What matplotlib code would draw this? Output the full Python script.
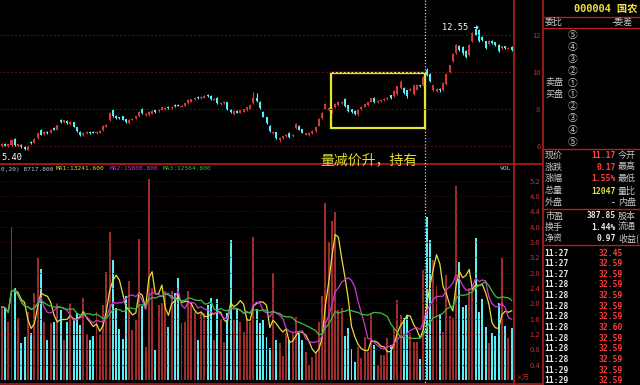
import numpy as np
import pandas as pd
import matplotlib
matplotlib.use('Agg')
import matplotlib.pyplot as plt
from matplotlib.patches import Rectangle

plt.rcParams['font.family'] = ['Noto Sans CJK SC', 'DejaVu Sans']

# 日K线数据 (开, 收, 高, 低)
opens = [6.00, 6.12, 6.00, 6.05, 6.40, 6.00, 6.05, 5.95, 5.80, 6.22,
         6.18, 6.42, 6.85, 6.65, 6.78, 6.72, 6.98, 6.88, 7.40, 7.28,
         7.35, 7.20, 7.28, 7.02, 6.78, 6.60, 6.68, 6.76, 6.76, 6.70,
         6.72, 6.85, 7.02, 7.40, 7.92, 7.62, 7.55, 7.60, 7.45, 7.25,
         7.42, 7.52, 7.60, 8.02, 7.68, 7.66, 7.75, 7.92, 7.88, 7.95,
         8.00, 8.12, 8.04, 8.22, 8.24, 8.12, 8.18, 8.30, 8.40, 8.52,
         8.64, 8.58, 8.62, 8.76, 8.72, 8.50, 8.62, 8.28, 8.30, 8.36,
         7.95, 7.72, 7.90, 7.80, 7.85, 7.92, 8.02, 8.30, 8.62, 8.40,
         7.85, 7.55, 7.10, 6.68, 6.75, 6.30, 6.45, 6.55, 6.70, 6.55,
         6.95, 7.10, 6.90, 6.62, 6.58, 6.70, 6.82, 7.10, 7.50, 8.02,
         7.95, 7.80, 8.10, 8.22, 8.30, 8.55, 8.20, 7.98, 7.90, 7.72,
         8.00, 8.12, 8.22, 8.40, 8.60, 8.38, 8.42, 8.48, 8.55, 8.75,
         8.70, 8.80, 9.15, 9.15, 9.00, 9.02, 8.82, 9.05, 9.28, 9.30,
         10.10, 9.90, 9.02, 8.95, 9.10, 9.00, 9.35, 10.00, 10.60, 11.00,
         11.40, 11.35, 11.15, 10.90, 11.65, 12.30, 12.25, 11.88, 11.65, 11.50,
         11.68, 11.60, 11.45, 11.30, 11.38, 11.26, 11.35]
closes = [6.10, 6.02, 6.08, 6.30, 6.05, 6.08, 5.92, 5.82, 6.00, 6.15,
          6.40, 6.70, 6.62, 6.78, 6.68, 6.86, 6.88, 7.12, 7.28, 7.38,
          7.25, 7.30, 7.05, 6.80, 6.62, 6.70, 6.75, 6.70, 6.72, 6.76,
          6.80, 7.08, 7.15, 7.78, 7.62, 7.52, 7.50, 7.42, 7.30, 7.40,
          7.48, 7.60, 7.85, 7.78, 7.75, 7.85, 7.88, 7.85, 7.95, 8.08,
          8.06, 8.05, 8.12, 8.15, 8.18, 8.18, 8.30, 8.48, 8.52, 8.60,
          8.58, 8.66, 8.72, 8.70, 8.52, 8.56, 8.30, 8.34, 8.38, 7.98,
          7.85, 7.90, 7.80, 7.92, 7.98, 8.08, 8.22, 8.58, 8.45, 8.05,
          7.58, 7.25, 6.82, 6.75, 6.42, 6.45, 6.52, 6.62, 6.48, 6.62,
          7.18, 6.88, 6.72, 6.68, 6.70, 6.82, 7.00, 7.48, 7.78, 8.28,
          8.05, 8.02, 8.28, 8.40, 8.38, 8.15, 7.88, 7.82, 7.72, 7.92,
          8.12, 8.28, 8.35, 8.58, 8.38, 8.42, 8.50, 8.55, 8.62, 8.60,
          8.98, 9.22, 9.45, 8.88, 8.68, 9.10, 9.28, 9.30, 9.22, 9.75,
          9.82, 9.52, 9.28, 9.10, 9.00, 9.40, 9.90, 10.35, 10.95, 11.45,
          11.18, 11.00, 10.82, 11.45, 12.10, 12.02, 11.65, 11.75, 11.30, 11.65,
          11.55, 11.45, 11.12, 11.38, 11.30, 11.32, 11.17]
highs = [6.14, 6.16, 6.12, 6.36, 6.44, 6.12, 6.08, 5.98, 6.04, 6.25,
         6.44, 6.75, 6.90, 6.82, 6.82, 6.90, 7.02, 7.16, 7.45, 7.42,
         7.38, 7.34, 7.32, 7.05, 6.80, 6.74, 6.80, 6.79, 6.80, 6.80,
         6.84, 7.12, 7.20, 7.84, 7.96, 7.66, 7.58, 7.63, 7.48, 7.44,
         7.52, 7.64, 7.90, 8.06, 7.80, 7.88, 7.92, 7.96, 7.99, 8.12,
         8.10, 8.16, 8.16, 8.26, 8.27, 8.22, 8.34, 8.52, 8.56, 8.64,
         8.68, 8.70, 8.76, 8.80, 8.75, 8.60, 8.66, 8.38, 8.42, 8.40,
         7.98, 7.94, 7.94, 7.96, 8.02, 8.12, 8.26, 8.90, 8.88, 8.44,
         7.88, 7.58, 7.14, 6.80, 6.78, 6.50, 6.56, 6.66, 6.74, 6.66,
         7.22, 7.14, 6.94, 6.72, 6.74, 6.86, 7.04, 7.52, 7.82, 8.34,
         8.10, 8.06, 8.32, 8.44, 8.42, 8.60, 8.24, 8.02, 7.94, 7.96,
         8.16, 8.32, 8.39, 8.62, 8.64, 8.46, 8.54, 8.59, 8.66, 8.78,
         9.02, 9.26, 9.58, 9.20, 9.04, 9.14, 9.32, 9.34, 9.32, 9.80,
         10.22, 9.94, 9.32, 9.14, 9.14, 9.44, 9.95, 10.40, 11.00, 11.50,
         11.45, 11.40, 11.20, 11.50, 12.16, 12.55, 12.30, 11.92, 11.70, 11.72,
         11.72, 11.64, 11.50, 11.42, 11.42, 11.36, 11.40]
lows = [5.96, 5.98, 5.96, 6.02, 6.00, 5.95, 5.88, 5.76, 5.78, 6.10,
        6.15, 6.40, 6.58, 6.62, 6.64, 6.70, 6.84, 6.85, 7.24, 7.25,
        7.20, 7.16, 7.00, 6.76, 6.56, 6.55, 6.64, 6.66, 6.68, 6.66,
        6.68, 6.82, 7.00, 7.36, 7.58, 7.48, 7.46, 7.38, 7.26, 7.20,
        7.38, 7.48, 7.56, 7.74, 7.64, 7.62, 7.72, 7.80, 7.84, 7.92,
        7.96, 8.00, 8.00, 8.10, 8.14, 8.08, 8.15, 8.27, 8.36, 8.48,
        8.54, 8.55, 8.58, 8.66, 8.48, 8.46, 8.26, 8.24, 8.26, 7.94,
        7.80, 7.68, 7.76, 7.76, 7.82, 7.88, 7.98, 8.26, 8.40, 8.00,
        7.54, 7.20, 6.78, 6.64, 6.36, 6.24, 6.40, 6.50, 6.44, 6.50,
        6.92, 6.84, 6.68, 6.58, 6.54, 6.66, 6.78, 7.06, 7.46, 7.98,
        7.90, 7.76, 8.06, 8.18, 8.26, 8.10, 7.84, 7.78, 7.66, 7.62,
        7.96, 8.08, 8.18, 8.36, 8.34, 8.34, 8.38, 8.44, 8.51, 8.56,
        8.66, 8.76, 9.10, 8.82, 8.62, 8.98, 8.78, 9.00, 9.18, 9.26,
        9.78, 9.46, 8.96, 8.90, 8.94, 8.96, 9.30, 9.95, 10.55, 10.95,
        11.12, 10.92, 10.75, 10.85, 11.60, 11.98, 11.60, 11.70, 11.25, 11.46,
        11.50, 11.40, 11.08, 11.26, 11.26, 11.22, 11.12]

# 成交量 (万手)
volumes = [1.90, 1.88, 1.52, 4.00, 2.40, 1.62, 0.96, 1.13, 1.78, 1.22,
           2.27, 3.18, 2.90, 1.52, 1.04, 1.49, 1.52, 2.00, 1.83, 1.04,
           1.52, 2.02, 1.57, 1.74, 1.44, 2.14, 1.20, 1.04, 1.15, 1.78,
           1.18, 1.96, 2.83, 3.87, 3.13, 1.88, 1.33, 1.07, 2.19, 2.59,
           1.31, 1.57, 3.68, 1.92, 0.87, 5.25, 2.40, 0.77, 1.96, 2.00,
           2.31, 1.39, 2.31, 2.27, 2.65, 1.48, 1.52, 2.31, 2.00, 1.78,
           1.04, 1.74, 1.74, 1.96, 2.13, 1.04, 2.10, 1.58, 1.00, 1.74,
           3.66, 1.57, 1.87, 1.52, 1.26, 1.61, 1.52, 3.74, 1.84, 1.48,
           1.57, 1.11, 0.83, 2.80, 1.03, 0.96, 0.63, 1.22, 1.04, 1.22,
           1.65, 1.22, 1.04, 0.74, 0.39, 0.61, 0.74, 1.52, 2.18, 4.63,
           3.61, 4.16, 4.39, 1.83, 1.87, 1.15, 1.35, 0.80, 0.48, 0.87,
           0.58, 1.13, 0.74, 1.71, 0.91, 0.39, 0.65, 0.65, 1.09, 0.91,
           1.35, 2.09, 1.70, 1.61, 1.70, 1.22, 1.00, 1.00, 0.54, 2.87,
           4.25, 3.64, 3.13, 2.44, 1.72, 1.26, 2.74, 1.67, 1.61, 5.07,
           3.09, 1.91, 1.96, 2.39, 2.48, 3.70, 1.78, 2.10, 1.38, 0.96,
           1.22, 1.15, 2.00, 3.18, 1.41, 1.09, 1.35]

price_ticks = [6, 8, 10, 12]
vol_ticks = [0.4, 0.8, 1.2, 1.6, 2.0, 2.4, 2.8, 3.2, 3.6, 4.0, 4.4, 4.8, 5.2]

# 右侧盘口
order_labels = ['⑤', '④', '③', '②', '①', '①', '②', '③', '④', '⑤']
stat_left = ['现价', '涨跌', '涨幅', '总量', '外盘', '市盈', '换手', '净资']
stat_values = ['11.17', '0.17', '1.55%', '12047', '-', '387.85', '1.44%', '0.97']
stat_right = ['今开', '最高', '最低', '量比', '内盘', '股本', '流通', '收益(']
tick_times = ['11:27', '11:27', '11:27', '11:28', '11:28', '11:28', '11:28',
              '11:28', '11:28', '11:28', '11:28', '11:29', '11:29']
tick_prices = ['32.45', '32.59', '32.59', '32.59', '32.59', '32.59', '32.59',
               '32.60', '32.59', '32.59', '32.59', '32.59', '32.59']

RED = '#d23a3a'
VRED = '#a02c2c'
CYAN = '#58eef6'
LINE = '#b41e1e'
GRID = '#5a1010'
AXTXT = '#c03434'
GREY = '#c8c8c8'

W, H = 640, 385
fig = plt.figure(figsize=(6.4, 3.85), dpi=100, facecolor='black')


def box(x0, y0, x1, y1):
    return [x0 / W, 1 - y1 / H, (x1 - x0) / W, (y1 - y0) / H]


ax = fig.add_axes(box(0, 0, 514, 163))
axv = fig.add_axes(box(0, 165, 514, 383))

x = np.arange(len(closes))
o = np.array(opens)
c = np.array(closes)
up = c >= o
cols = np.where(up, RED, CYAN)

for a in (ax, axv):
    a.set_facecolor('black')
    a.set_xlim(-0.52, 156.7)
    for s in a.spines.values():
        s.set_visible(False)
    a.set_xticks([])
    a.yaxis.tick_right()
    a.tick_params(axis='y', length=0, colors=AXTXT, labelsize=5.5, pad=19)

# K线
ax.set_ylim(5.08, 13.89)
ax.hlines(price_ticks, -1, 160, colors=GRID, linestyles=(0, (2, 2)), lw=0.7)
ax.vlines(x, lows, highs, colors=cols, lw=0.8)
ax.bar(x, np.maximum(np.abs(c - o), 0.03), bottom=np.minimum(o, c),
       width=0.62, color=cols, linewidth=0)
ax.set_yticks(price_ticks)
ax.set_yticklabels([str(t) for t in price_ticks], ha='right')
ax.add_patch(Rectangle((100.7, 6.97), 28.7, 3.0, fill=False,
                       edgecolor='#e6e62c', lw=1.6))

# 成交量
axv.set_ylim(-0.08, 5.61)
axv.hlines(vol_ticks, -1, 160, colors='#3a0a0a', linestyles=(0, (2, 2)), lw=0.6)
axv.bar(x, volumes, width=0.6, color=np.where(up, VRED, CYAN), linewidth=0)
vs = pd.Series(volumes)
axv.plot(x, vs.rolling(5, min_periods=1).mean(), color='#e6dc3c', lw=0.9)
axv.plot(x, vs.rolling(10, min_periods=1).mean(), color='#d038d0', lw=0.9)
axv.plot(x, vs.rolling(20, min_periods=1).mean(), color='#3cc03c', lw=0.9)
axv.set_yticks(vol_ticks)
axv.set_yticklabels(['%.1f' % t for t in vol_ticks], ha='right')

# 叠加层：边框与文字
ov = fig.add_axes([0, 0, 1, 1])
ov.set_xlim(0, W)
ov.set_ylim(H, 0)
ov.axis('off')
ov.patch.set_alpha(0)

ov.vlines([514, 543], 0, H, colors=LINE, lw=1.2)
ov.hlines(164, 0, 543, colors=LINE, lw=1.2)
ov.hlines(383.5, 0, 543, colors=LINE, lw=1.2)
ov.hlines([17, 28, 149, 209, 245], 543, W, colors=LINE, lw=1.0)
ov.vlines(425, 0, 383, colors='#d0d0d0', lw=0.9, linestyles=(0, (1, 1.5)))

mono = ['DejaVu Sans Mono', 'Noto Sans CJK SC']
ov.text(1, 169, '0,20) 8717.800', color=GREY, family=mono, fontsize=4.4, va='center')
ov.text(56, 169, 'MA1:13241.600', color='#e6dc3c', family=mono, fontsize=4.4, va='center')
ov.text(110, 169, 'MA2:15808.800', color='#d038d0', family=mono, fontsize=4.4, va='center')
ov.text(163, 169, 'MA3:12564.800', color='#3cc03c', family=mono, fontsize=4.4, va='center')
ov.text(511, 169, 'VOL', color=GREY, family=mono, fontsize=4.6, ha='right', va='center')
ov.text(516, 378, '×万', color=AXTXT, fontsize=5, va='center')

ov.text(442, 28, '12.55 →', color='white', family=mono, fontsize=6.2, va='center')
ov.text(1, 157, '5.40', color='white', family=mono, fontsize=6.2, va='center')
ov.text(320, 160, '量减价升，持有', color='#dcdc30', fontsize=10, va='center')

ov.text(574, 9, '000004 国农', color='#f0e040', family=mono, fontsize=7.4,
        fontweight='bold', va='center')
ov.text(545, 22.5, '委比', color=GREY, fontsize=6.5, va='center')
ov.text(612, 22.5, '-委差', color=GREY, fontsize=6.5, va='center')
for k, lab in enumerate(order_labels):
    yy = 35 + k * 11.9
    ov.text(573, yy, lab, color=GREY, fontsize=7, ha='center', va='center')
ov.text(545, 82.7, '卖盘', color=GREY, fontsize=6.5, va='center')
ov.text(545, 94.6, '买盘', color=GREY, fontsize=6.5, va='center')

stat_y = [155, 167, 178.5, 191, 203, 216, 227, 238.5]
val_cols = ['#ff4040', '#ff4040', '#ff4040', '#e6e040', GREY, '#e8e8e8', '#e8e8e8', '#e8e8e8']
for yy, l, v, r, vc in zip(stat_y, stat_left, stat_values, stat_right, val_cols):
    ov.text(545, yy, l, color=GREY, fontsize=6.5, va='center')
    ov.text(616, yy, v, color=vc, family=mono, fontsize=5.8, fontweight='bold',
            ha='right', va='center')
    ov.text(618, yy, r, color=GREY, fontsize=6.5, va='center')

for k, (t, p) in enumerate(zip(tick_times, tick_prices)):
    yy = 253 + k * 10.65
    ov.text(544, yy, t, color='#e8e8e8', family=mono, fontsize=5.8,
            fontweight='bold', va='center')
    ov.text(623, yy, p, color='#ff3c3c', family=mono, fontsize=5.8,
            fontweight='bold', ha='right', va='center')

fig.savefig('out.png', dpi=100, facecolor='black')
